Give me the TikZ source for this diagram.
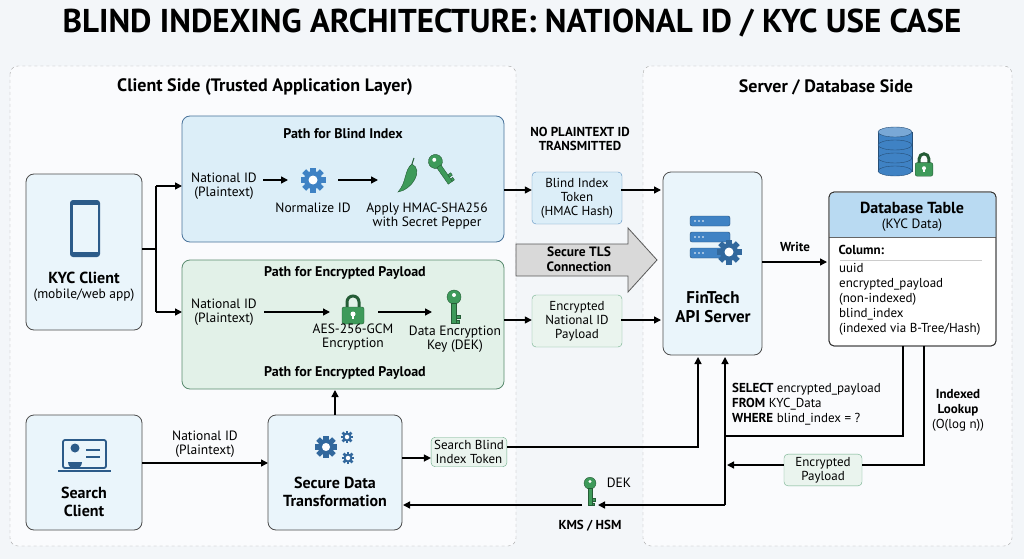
\documentclass[tikz,border=0pt]{standalone}
\usepackage{fontspec}
\setmainfont{PT Sans}
\usetikzlibrary{arrows.meta}
\definecolor{bgc}{HTML}{F3F6F9}
\definecolor{pblue}{HTML}{DCEEF8}
\definecolor{pgreen}{HTML}{E2F1E8}
\definecolor{bblue}{HTML}{5A8FC0}
\definecolor{bgreen}{HTML}{6FAE8A}
\definecolor{ib}{HTML}{3F82C4}
\definecolor{ig}{HTML}{3E9A5A}
\definecolor{hdr}{HTML}{B9DAF2}
\tikzset{
 panel/.style={draw=gray!70,dashed,rounded corners=8pt,fill=white!60!bgc},
 bluebox/.style={draw=bblue!80!black,fill=pblue,rounded corners=8pt,line width=0.8pt},
 greenbox/.style={draw=bgreen!80!black,fill=pgreen,rounded corners=8pt,line width=0.8pt},
 clientbox/.style={draw=black!70,fill=pblue!60!white,rounded corners=8pt,line width=0.8pt},
 tokb/.style={draw=bblue,fill=pblue,rounded corners=4pt,align=center,font=\fontsize{13}{14}\selectfont,minimum width=90pt,minimum height=52pt,inner sep=2pt},
 tokg/.style={draw=bgreen,fill=pgreen!80!bgreen!40,rounded corners=4pt,align=center,font=\fontsize{13}{14}\selectfont,inner sep=3pt},
 txt/.style={align=center,font=\fontsize{13.5}{14.5}\selectfont},
 btxt/.style={align=center,font=\bfseries\fontsize{14}{15}\selectfont},
 arr/.style={-{Triangle[length=7pt,width=7pt]},line width=1.4pt},
 con/.style={line width=1.2pt},
 pics/gear/.style={code={
   \fill[#1] (0,0) circle (9);
   \foreach \a in {0,45,...,315}{\fill[#1,rotate=\a] (-2.8,7) rectangle (2.8,12.5);}
   \fill[white] (0,0) circle (4.5);}},
 pics/key/.style={code={
   \fill[ig,draw=ig!60!black] (0,-8) circle (7);
   \fill[white] (0,-10) circle (2);
   \fill[ig,draw=ig!60!black] (-2.5,-2) rectangle (2.5,18);
   \fill[ig,draw=ig!60!black] (2.5,10) rectangle (6,13) (2.5,15) rectangle (5,18);}},
 pics/lock/.style={code={
   \draw[ig!60!black,line width=3pt] (-6,-2) -- (-6,-8) arc (180:360:6) -- (6,-2);
   \fill[ig,draw=ig!60!black,rounded corners=2pt] (-11,14) rectangle (11,-3);
   \fill[white] (0,4) circle (2.5); \fill[white] (-1,4) rectangle (1,9);}}
}
\begin{document}
\begin{tikzpicture}[x=1pt,y=-1pt]
\useasboundingbox (0,0) rectangle (1024,559);
\fill[bgc] (0,0) rectangle (1024,559);
\node[font=\bfseries\fontsize{33}{36}\selectfont] (title) at (512,23) {BLIND INDEXING ARCHITECTURE: NATIONAL ID / KYC USE CASE};
% panels
\draw[panel] (10,66) rectangle (516,546);
\draw[panel] (643,66) rectangle (1012,546);
\node[font=\bfseries\fontsize{18}{20}\selectfont] (ct) at (265,87) {Client Side (Trusted Application Layer)};
\node[font=\bfseries\fontsize{18}{20}\selectfont] (st) at (826,87) {Server / Database Side};
% path boxes
\draw[bluebox] (182,116) rectangle (504,242);
\node[btxt] (pbt) at (343,134) {Path for Blind Index};
\draw[greenbox] (182,260) rectangle (504,389);
\node[btxt] (pet) at (345,273) {Path for Encrypted Payload};
\node[btxt] (peb) at (345,373) {Path for Encrypted Payload};
% KYC client
\draw[clientbox] (26,174) rectangle (142,330);
\node (kycc) at (84,252) {};
\fill[ib!70!black,rounded corners=3pt] (70,200) rectangle (100,257);
\fill[pblue!60!white] (72.5,205) rectangle (97.5,252);
\node[font=\bfseries\fontsize{16}{17}\selectfont] (kyc) at (84,278) {KYC Client};
\node[txt] (kyc2) at (84,295) {(mobile/web app)};
% blind row
\node[txt] (nid1) at (224,186) {National ID\\(Plaintext)};
\pic at (313,180) {gear=ib};
\node (g1) at (313,180) {};
\node[txt] (norm) at (313,208) {Normalize ID};
\fill[ig,draw=ig!60!black] (412,164) .. controls (424,170) and (412,190) .. (398,192) .. controls (407,182) and (404,170) .. (412,164);
\draw[ig!60!black,line width=1pt] (412,164) -- (414,158);
\pic[rotate=35] at (440,168) {key};
\node (pep) at (425,176) {};
\node[txt] (hmac) at (427,216) {Apply HMAC-SHA256\\with Secret Pepper};
\draw[arr] (263,180) -- (288,180);
\draw[arr] (338,180) -- (378,180);
% enc row
\node[txt] (nid2) at (224,312) {National ID\\(Plaintext)};
\pic at (353,310) {lock};
\node (lk) at (353,312) {};
\node[txt] (aes) at (353,337) {AES-256-GCM\\Encryption};
\pic at (454,305) {key};
\node[txt] (dek) at (455,339) {Data Encryption\\Key (DEK)};
\draw[arr] (264,312) -- (330,312);
\draw[arr] (378,312) -- (432,312);
% branch
\draw[con] (142,249) -- (156,249);
\draw[arr] (156,186) -- (156,312) (156,186) -- (182,186);
\draw[arr] (156,312) -- (182,312);
% TLS arrow
\draw[draw=gray!70!black,fill=gray!30,line width=0.8pt] (516,244) -- (628,244) -- (628,228) -- (657,260) -- (628,292) -- (628,276) -- (516,276) -- cycle;
\node[font=\bfseries\fontsize{13.5}{15}\selectfont,align=center] (tlst) at (579,259) {Secure TLS\\Connection};
% tokens
\node[font=\bfseries\fontsize{13}{14}\selectfont,align=center] (nop) at (580,139) {NO PLAINTEXT ID\\TRANSMITTED};
\node[tokb] (bit) at (577,198) {Blind Index\\Token\\(HMAC Hash)};
\node[tokg,minimum width=90pt,minimum height=52pt] (enp) at (577,321) {Encrypted\\National ID\\Payload};
\draw[arr] (504,190) -- (bit.west |- 0,190);
\draw[arr] (504,320) -- (enp.west |- 0,320);
% fintech
\draw[clientbox] (663,172) rectangle (762,355);
\node (fin) at (712,262) {};
\foreach \yy in {216,232,248}{\fill[ib,draw=ib!60!black,rounded corners=2pt] (690,\yy) rectangle (730,\yy+10);
 \foreach \xx in {695,699,703}{\fill[white] (\xx,\yy+5) circle (0.9);}}
\pic at (729,252) {gear=ib!80!black};
\node[font=\bfseries\fontsize{17}{19}\selectfont,align=center] (fint) at (713,307) {FinTech\\API Server};
\draw[arr] (621,190) -- (661,190);
\draw[arr] (621,320) -- (661,320);
% db icon
\foreach \yy in {158,145,132}{\fill[ib,draw=ib!60!black] (878,\yy) rectangle (912,\yy+13);
 \fill[ib,draw=ib!60!black] (895,\yy+13) ellipse (17 and 5);}
\fill[ib!70!white,draw=ib!60!black] (895,132) ellipse (17 and 5);
\pic[scale=0.8] at (924,165) {lock};
% DB table
\draw[draw=black!80,fill=white,rounded corners=5pt,line width=0.8pt] (829,192) rectangle (996,346);
\fill[hdr,rounded corners=5pt] (829.5,192.5) rectangle (995.5,237);
\fill[hdr] (829.5,220) rectangle (995.5,237);
\draw[black!60] (829,237) -- (996,237);
\draw[black!80,rounded corners=5pt,line width=0.8pt] (829,192) rectangle (996,346);
\node (dbt) at (912,269) {};
\node[font=\bfseries\fontsize{16}{17}\selectfont] (dbtitle) at (912,208) {Database Table};
\node[txt] (dbsub) at (912,225) {(KYC Data)};
\node[font=\bfseries\fontsize{13}{14}\selectfont,anchor=west] (colh) at (835,250) {Column:};
\draw[gray!40] (840,260) -- (982,260);
\node[anchor=north west,align=left,font=\fontsize{13}{15}\selectfont,inner sep=0pt] (cols) at (839,263) {uuid\\encrypted\_payload\\(non-indexed)\\blind\_index\\(indexed via B-Tree/Hash)};
\draw[arr] (762,262) -- (827,262);
\node[font=\bfseries\fontsize{13}{14}\selectfont] (wr) at (795,247) {Write};
% search client
\draw[clientbox] (26,415) rectangle (142,530);
\node (sc) at (84,463) {};
\draw[ib!70!black,line width=1.8pt,rounded corners=2pt] (63,440) rectangle (106,468);
\draw[ib!70!black,line width=1.5pt] (58,471) -- (111,471);
\fill[ib!70!black] (75,448) circle (4.5); \fill[ib!70!black] (68,462) arc (180:0:7) -- cycle;
\draw[ib!70!black,line width=1.5pt] (86,450) -- (100,450) (86,457) -- (100,457);
\node[font=\bfseries\fontsize{16}{18}\selectfont,align=center] (sct) at (84,502) {Search\\Client};
% SDT
\draw[clientbox] (268,415) rectangle (402,530);
\node (sdt) at (335,472) {};
\pic[scale=0.9] at (326,447) {gear=ib!80!black};
\pic[scale=0.5] at (347,437) {gear=ib!80!black};
\pic[scale=0.5] at (348,458) {gear=ib!80!black};
\node[font=\bfseries\fontsize{16}{18}\selectfont,align=center] (sdtt) at (335,492) {Secure Data\\Transformation};
\draw[arr] (142,463) -- (268,463);
\node[txt] (nid3) at (205,444) {National ID\\(Plaintext)};
\draw[arr] (335,415) -- (335,390);
\node[tokg] (sbit) at (469,452) {Search Blind\\Index Token};
\draw[arr] (402,458) -- (sbit.west |- 0,458);
\draw[arr] (sbit.east |- 0,447) -- (698,447) -- (698,357);
% return
\draw[arr] (903,346) -- (903,436) -- (725,436) -- (725,357);
\draw[con] (725,436) -- (725,505);
\node[anchor=north west,align=left,font=\fontsize{13}{15}\selectfont,inner sep=0pt] (sql) at (732,383) {\textbf{SELECT} encrypted\_payload\\\textbf{FROM} KYC\_Data\\\textbf{WHERE} blind\_index = ?};
\node[tokg,minimum width=78pt] (ep) at (823,470) {Encrypted\\Payload};
\draw[con] (924,346) -- (924,465) -- (ep.east |- 0,465);
\draw[arr] (ep.west |- 0,465) -- (727,465);
\node[font=\fontsize{13}{15}\selectfont,align=center] (il) at (958,410) {\textbf{Indexed}\\\textbf{Lookup}\\(O(log n))};
\pic[scale=0.85] at (590,490) {key};
\node (kms) at (590,490) {};
\node[txt] (dekl) at (619,483) {DEK};
\node[font=\bfseries\fontsize{13}{14}\selectfont] (kmsl) at (590,526) {KMS / HSM};
\draw[arr] (725,505) -- (598,505);
\draw[arr] (582,505) -- (403,505);
\end{tikzpicture}
\end{document}
